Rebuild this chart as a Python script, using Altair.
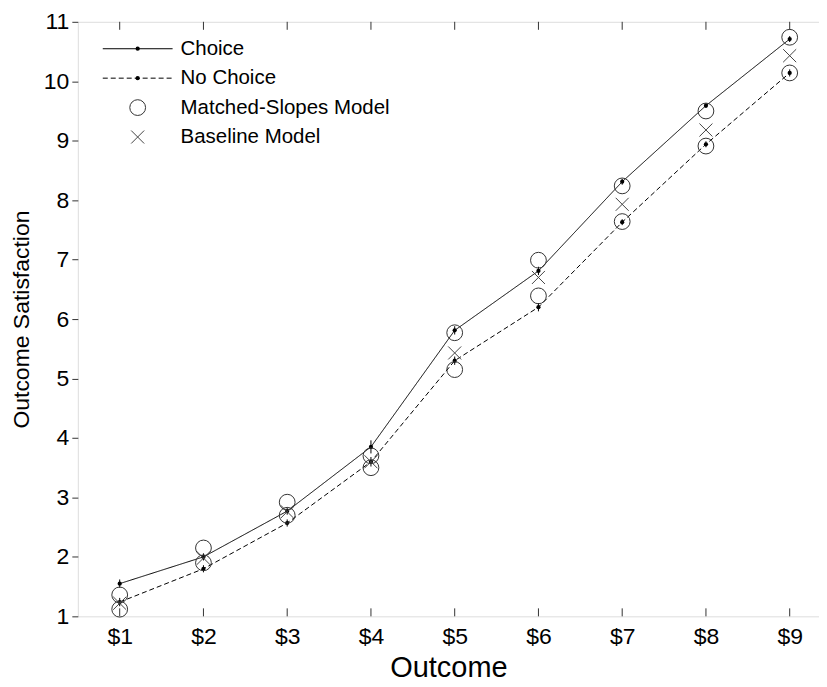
import altair as alt
import pandas as pd

outcomes = [1, 2, 3, 4, 5, 6, 7, 8, 9]
choice = [1.55, 2.00, 2.77, 3.85, 5.81, 6.81, 8.31, 9.59, 10.71]
choice_err = [0.07, 0.06, 0.06, 0.11, 0.07, 0.07, 0.05, 0.04, 0.05]
no_choice = [1.24, 1.80, 2.57, 3.60, 5.30, 6.20, 7.63, 8.94, 10.14]
no_choice_err = [0.07, 0.06, 0.06, 0.08, 0.07, 0.07, 0.05, 0.05, 0.06]
matched_choice = [1.36, 2.15, 2.92, 3.70, 5.77, 6.99, 8.24, 9.50, 10.74]
matched_no_choice = [1.12, 1.90, 2.70, 3.50, 5.15, 6.39, 7.64, 8.91, 10.14]
baseline = [1.22, 1.98, 2.76, 3.60, 5.43, 6.70, 7.93, 9.18, 10.43]

legend_labels = ["Choice", "No Choice", "Matched-Slopes Model", "Baseline Model"]

W, H = 743, 596
FONT = "Liberation Sans"
XPATH = "M-1,-1L1,1M-1,1L1,-1"

obs = pd.DataFrame({
    "outcome": outcomes * 2,
    "value": choice + no_choice,
    "err": choice_err + no_choice_err,
    "series": ["Choice"] * 9 + ["No Choice"] * 9,
})
obs["lo"] = obs["value"] - obs["err"]
obs["hi"] = obs["value"] + obs["err"]

matched = pd.DataFrame({"outcome": outcomes * 2, "value": matched_choice + matched_no_choice})
base = pd.DataFrame({"outcome": outcomes, "value": baseline})
ticks = pd.DataFrame({"outcome": outcomes})

xscale = alt.Scale(domain=[0.5, 9.35], nice=False, zero=False)
yscale = alt.Scale(domain=[1, 11], nice=False, zero=False)

X = alt.X("outcome:Q", scale=xscale, title="Outcome",
          axis=alt.Axis(values=outcomes, labelExpr="'$' + datum.value", tickSize=0,
                        domain=False, grid=False, labelPadding=9, labelFontSize=23,
                        labelFont=FONT, titleFont=FONT, titleFontSize=29,
                        titleFontWeight="normal", titlePadding=5, labelColor="black",
                        titleColor="black"))
Y = alt.Y("value:Q", scale=yscale, title="Outcome Satisfaction",
          axis=alt.Axis(values=list(range(1, 12)), format="d", tickSize=6, tickColor="#333",
                        domain=False, grid=False, labelPadding=3, labelFontSize=23,
                        labelFont=FONT, titleFont=FONT, titleFontSize=23,
                        titleFontWeight="normal", titlePadding=10, labelColor="black",
                        titleColor="black"))

lines = alt.Chart(obs).mark_line(color="black", strokeWidth=1).encode(
    x=X, y=Y,
    strokeDash=alt.StrokeDash("series:N", scale=alt.Scale(domain=["Choice", "No Choice"],
                              range=[[1, 0], [5, 3]]), legend=None),
)
errs = alt.Chart(obs).mark_rule(color="black", strokeWidth=1).encode(
    x="outcome:Q", y="lo:Q", y2="hi:Q")
dots = alt.Chart(obs).mark_circle(color="black", size=18, opacity=1).encode(x="outcome:Q", y="value:Q")
circles = alt.Chart(matched).mark_point(shape="circle", size=250, filled=False,
                                        color="#333", strokeWidth=1, opacity=1).encode(
    x="outcome:Q", y="value:Q")
crosses = alt.Chart(base).mark_point(shape=XPATH, size=170, filled=False,
                                     color="#444", strokeWidth=1, opacity=1).encode(
    x="outcome:Q", y="value:Q")
bticks = alt.Chart(ticks).mark_rule(color="#333").encode(
    x="outcome:Q", y=alt.value(H), y2=alt.value(H - 8))
tticks = alt.Chart(ticks).mark_rule(color="#333").encode(
    x="outcome:Q", y=alt.value(0), y2=alt.value(8))

# legend
leg = pd.DataFrame({"label": legend_labels, "row": [0, 1, 2, 3]})
leg["ypix"] = 27 + leg["row"] * 29.5
legY = alt.Y("ypix:Q", scale=None)
leg_text = alt.Chart(leg).mark_text(align="left", baseline="middle", fontSize=20.5,
                                    font=FONT, color="black").encode(
    x=alt.value(103), y=legY, text="label:N")
leg_solid = alt.Chart(leg[leg.row == 0]).mark_rule(color="black", strokeWidth=1).encode(
    x=alt.value(25), x2=alt.value(95), y=legY)
leg_dash = alt.Chart(leg[leg.row == 1]).mark_rule(color="black", strokeWidth=1,
                                                  strokeDash=[5, 3]).encode(
    x=alt.value(25), x2=alt.value(95), y=legY)
leg_dots = alt.Chart(leg[leg.row <= 1]).mark_circle(color="black", size=18, opacity=1).encode(
    x=alt.value(60), y=legY)
leg_circ = alt.Chart(leg[leg.row == 2]).mark_point(shape="circle", size=250, filled=False,
                                                   color="#333", strokeWidth=1, opacity=1).encode(
    x=alt.value(60), y=legY)
leg_x = alt.Chart(leg[leg.row == 3]).mark_point(shape=XPATH, size=170, filled=False,
                                                color="#444", strokeWidth=1, opacity=1).encode(
    x=alt.value(60), y=legY)

chart = alt.layer(
    bticks, tticks, lines, errs, dots, circles, crosses,
    leg_solid, leg_dash, leg_dots, leg_circ, leg_x, leg_text,
).properties(
    width=W, height=H,
    autosize=alt.AutoSizeParams(type="none"),
    padding={"left": 70, "top": 13, "right": 0, "bottom": 70},
).configure_view(stroke="#222", strokeWidth=1.2).configure(background="white")

chart.save("out.html", embed_options={"renderer": "svg", "actions": False})
